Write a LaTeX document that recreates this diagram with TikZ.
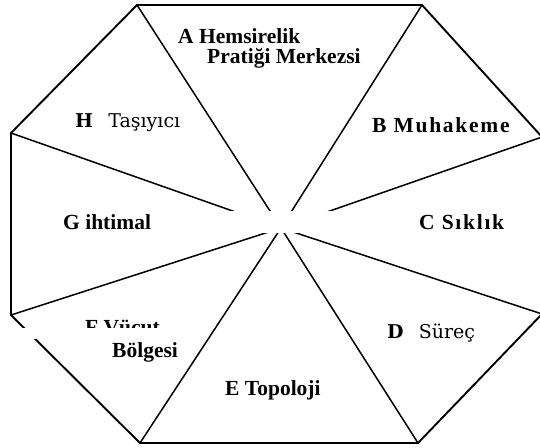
\documentclass[tikz,border=0pt]{standalone}
\usepackage{fontspec}
\setmainfont{Liberation Serif}
\newfontfamily\schfont{DejaVu Serif}
\usepackage{tikz}

\begin{document}
\begin{tikzpicture}[
    x=1pt, y=-1pt,
    rim/.style={line width=1.9pt, line join=miter},
    spoke/.style={line width=1.5pt},
    lbl/.style={font=\fontsize{21.5}{23}\selectfont\bfseries, inner sep=0pt, anchor=base west},
    widelbl/.style={lbl, font=\fontsize{21.5}{23}\selectfont\bfseries\addfontfeature{LetterSpace=8}},
    altlbl/.style={font=\fontsize{19}{21}\selectfont\schfont, inner sep=0pt, anchor=base west},
    blank/.style={fill=white, draw=none}
]
\useasboundingbox (0,0) rectangle (540,447);

%% Octagon corners
\coordinate (c) at (281,228);
\coordinate (v1) at (137,5);
\coordinate (v2) at (422,5);
\coordinate (v3) at (542,137);
\coordinate (v4) at (542,314);
\coordinate (v5) at (418,443);
\coordinate (v6) at (140,443);
\coordinate (v7) at (11,315);
\coordinate (v8) at (11,133);

%% Outline and spokes
\draw[rim] (v1) -- (v2) -- (v3) -- (v4) -- (v5) -- (v6) -- (v7) -- (v8) -- cycle;
\foreach \i in {1,...,8}
  \draw[spoke] (c) -- (v\i);

%% White strip over the centre
\fill[blank] (225,211) rectangle (345,233);

%% Labels
\node[lbl] (hemsire) at (178,43) {A Hemsirelik};
\node[lbl] (pratik) at (207,63) {Pratiği Merkezsi};
\node[widelbl] (muhakeme) at (372,132) {B Muhakeme};
\node[widelbl] (siklik) at (419,229) {C Sıklık};
\node[altlbl] (surec) at (387,338) {\textbf{D}\hspace{0.8em}Süreç};
\node[lbl] (topoloji) at (225,395) {E Topoloji};
\node[lbl] (vucut) at (85,334) {F Vücut};
\node[lbl] (bolge) at (112,357) {Bölgesi};
\node[lbl] (ihtimal) at (63,229) {G ihtimal};
\node[altlbl] (tasiyici) at (75,127) {\textbf{H}\hspace{0.8em}Taşıyıcı};

%% Strip cutting the F label
\fill[blank] (0,328) rectangle (180,339);

\end{tikzpicture}
\end{document}
